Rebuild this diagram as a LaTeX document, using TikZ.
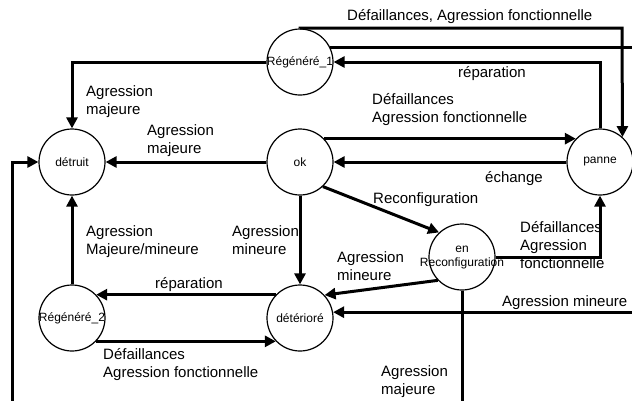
\documentclass[tikz,border=0pt]{standalone}
\usepackage{fontspec}
\setmainfont{Liberation Sans}
\usetikzlibrary{arrows.meta}
\tikzset{
  state/.style={circle, draw, line width=1.2pt, minimum size=66pt, inner sep=0pt,
    font=\fontsize{12}{13.5}\selectfont},
  trans/.style={line width=3pt, -{Triangle[length=11pt,width=11pt]}},
  lbl/.style={anchor=base west, inner sep=0pt, font=\fontsize{15}{18}\selectfont},
}
\newcommand\ctext[1]{\makebox[0pt]{#1}}
\newcommand\lines[1]{\begin{tabular}[t]{@{}l@{}}#1\end{tabular}}
\begin{document}
\begin{tikzpicture}[x=1pt,y=-1pt]
\useasboundingbox (0,0) rectangle (632,400);
\clip (0,0) rectangle (632,400);

% states
\node[state] (r1)  at (300,62)  {\ctext{Régénéré\_1}};
\node[state] (dtr) at (72,162)  {\ctext{détruit}};
\node[state] (ok)  at (300,162) {\ctext{ok}};
\node[state] (pn)  at (600,162) {\ctext{panne}};
\node[state] (enr) at (462,257) {\ctext{\begin{tabular}{@{}c@{}}en\\Reconfiguration\end{tabular}}};
\node[state] (dtd) at (300,318) {\ctext{détérioré}};
\node[state] (r2)  at (72,318)  {\ctext{Régénéré\_2}};

% transitions
\draw[trans] (r1.west) -| (dtr.north);
\draw[trans] (r1.north) |- (622,28) -- (pn.48);
\draw[trans] (r1.25) -- ++(330,0) |- (dtd.10);
\draw[trans] (pn.north) |- (r1.east);
\draw[trans] (ok.west) -- (dtr.east);
\draw[trans] (ok.44) -- (pn.136);
\draw[trans] (pn.west) -- (ok.east);
\draw[trans] (ok.-47) -- (enr.133);
\draw[trans] (ok.south) -- (dtd.north);
\draw[trans] (enr.east) -| (pn.south);
\draw[trans] (enr.224) -- (dtd.43);
\draw[trans] (enr.south) |- (12,420) |- (dtr.west);
\draw[trans] (dtd.136) -- (r2.44);
\draw[trans] (r2.-44) -- (dtd.-136);
\draw[trans] (r2.north) -- (dtr.south);

% labels
\node[lbl] (l1)  at (347,20)  {Défaillances, Agression fonctionnelle};
\node[lbl] (l2)  at (458,77)  {réparation};
\node[lbl] (l3)  at (86,96)   {\lines{Agression\\majeure}};
\node[lbl] (l4)  at (147,135) {\lines{Agression\\majeure}};
\node[lbl] (l5)  at (372,104) {\lines{Défaillances\\Agression fonctionnelle}};
\node[lbl] (l6)  at (485,182) {échange};
\node[lbl] (l7)  at (373,203) {Reconfiguration};
\node[lbl] (l8)  at (520,232) {\lines{Défaillances\\Agression\\fonctionnelle}};
\node[lbl] (l9)  at (337,262) {\lines{Agression\\mineure}};
\node[lbl] (l10) at (502,306) {Agression mineure};
\node[lbl] (l11) at (381,376) {\lines{Agression\\majeure}};
\node[lbl] (l12) at (86,236)  {\lines{Agression\\Majeure/mineure}};
\node[lbl] (l13) at (232,236) {\lines{Agression\\mineure}};
\node[lbl] (l14) at (155,288) {réparation};
\node[lbl] (l15) at (103,359) {\lines{Défaillances\\Agression fonctionnelle}};
\end{tikzpicture}
\end{document}
